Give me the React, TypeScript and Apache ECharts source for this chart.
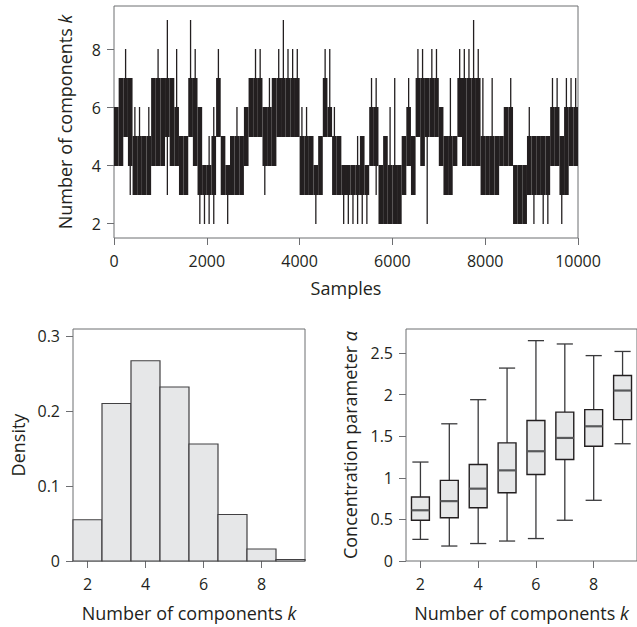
import React, { useEffect, useRef } from "react";
import * as echarts from "echarts";

// ---------- Trace plot (MCMC samples of k), summarised per window of samples ----------
const TRACE_WINDOW = 100; // samples per window
// dense band (lower / upper value visited often) per window
const traceCoreLo = [
  4, 4, 5, 4, 3, 3, 3, 3, 4, 4, 4, 5, 4, 4, 3, 3, 5, 4, 3, 3,
  3, 3, 5, 3, 3, 3, 3, 3, 4, 5, 5, 5, 4, 4, 4, 5, 5, 5, 5, 5,
  3, 3, 3, 3, 3, 5, 5, 3, 3, 3, 3, 3, 3, 3, 3, 4, 4, 2, 2, 2,
  2, 2, 3, 4, 3, 5, 4, 5, 5, 5, 4, 3, 3, 4, 5, 4, 4, 4, 4, 3,
  3, 3, 3, 4, 4, 4, 2, 2, 2, 3, 3, 3, 3, 3, 4, 4, 3, 3, 4, 4,
];
const traceCoreHi = [
  6, 7, 7, 7, 5, 5, 5, 5, 7, 7, 7, 7, 7, 6, 5, 5, 7, 7, 6, 4,
  4, 5, 7, 5, 4, 5, 5, 5, 6, 7, 7, 7, 6, 6, 7, 7, 7, 7, 7, 7,
  5, 5, 5, 4, 5, 7, 6, 5, 5, 4, 4, 4, 4, 5, 4, 6, 6, 4, 5, 4,
  4, 4, 5, 6, 5, 7, 7, 7, 7, 7, 6, 5, 5, 5, 7, 7, 7, 7, 7, 5,
  5, 5, 5, 5, 6, 6, 4, 4, 4, 5, 5, 5, 5, 5, 6, 6, 5, 6, 6, 6,
];
// extreme values reached within each window (single excursions)
const traceMin = [
  4, 4, 5, 3, 3, 3, 3, 3, 4, 4, 4, 3, 4, 4, 3, 3, 5, 4, 2, 2,
  2, 2, 5, 3, 2, 3, 3, 3, 4, 5, 5, 5, 3, 4, 4, 5, 5, 5, 5, 5,
  3, 3, 3, 2, 3, 5, 5, 3, 3, 2, 2, 2, 2, 2, 2, 4, 3, 2, 2, 2,
  2, 2, 3, 4, 3, 5, 4, 2, 5, 5, 4, 3, 3, 4, 5, 4, 4, 4, 4, 3,
  3, 3, 3, 4, 4, 4, 2, 2, 2, 3, 2, 3, 2, 2, 4, 4, 2, 3, 4, 4,
];
const traceMax = [
  6, 7, 8, 7, 6, 6, 5, 6, 7, 8, 7, 9, 7, 8, 5, 5, 9, 8, 6, 4,
  5, 6, 8, 5, 4, 5, 6, 5, 6, 7, 8, 8, 6, 7, 7, 8, 9, 8, 8, 8,
  6, 6, 5, 4, 5, 8, 8, 6, 5, 4, 4, 4, 5, 5, 4, 7, 7, 4, 5, 6,
  7, 4, 5, 7, 5, 8, 8, 7, 8, 8, 6, 5, 7, 5, 8, 8, 8, 9, 8, 7,
  5, 7, 5, 5, 6, 7, 4, 4, 4, 6, 5, 5, 5, 5, 7, 7, 5, 7, 7, 7,
];
const sampleTicks = [0, 2000, 4000, 6000, 8000, 10000];
const kTicksTop = [2, 4, 6, 8];

// ---------- Histogram of k ----------
const histK = [2, 3, 4, 5, 6, 7, 8, 9];
const histDensity = [0.055, 0.21, 0.267, 0.232, 0.156, 0.062, 0.016, 0.002];
const densityTicks = [0, 0.1, 0.2, 0.3];
const kTicks = [2, 4, 6, 8];

// ---------- Boxplots of alpha by k ----------
const boxK = [2, 3, 4, 5, 6, 7, 8, 9];
const boxLow = [0.26, 0.18, 0.21, 0.24, 0.27, 0.49, 0.73, 1.41];
const boxQ1 = [0.49, 0.52, 0.64, 0.82, 1.04, 1.22, 1.38, 1.7];
const boxMedian = [0.61, 0.72, 0.87, 1.09, 1.32, 1.48, 1.62, 2.05];
const boxQ3 = [0.77, 0.97, 1.16, 1.42, 1.69, 1.79, 1.82, 2.23];
const boxHigh = [1.19, 1.65, 1.94, 2.32, 2.65, 2.61, 2.47, 2.52];
const alphaTicks = [0, 0.5, 1, 1.5, 2, 2.5];

const FONT = "'Open Sans', 'Noto Sans', sans-serif";
const TEXT = "#231f20";
const FRAME = "#6d6e71";
const FILL = "#e6e7e8";

export default function App() {
  const ref = useRef<HTMLDivElement>(null);

  useEffect(() => {
    if (!ref.current) return;
    const chart = echarts.init(ref.current, undefined, { renderer: "svg" });

    const traceData = traceCoreLo.map((lo, i) => [
      i * TRACE_WINDOW,
      (i + 1) * TRACE_WINDOW,
      lo,
      traceCoreHi[i],
      traceMin[i],
      traceMax[i],
    ]);
    const histData = histK.map((k, i) => [k, histDensity[i]]);
    const boxData = boxK.map((k, i) => [k, boxLow[i], boxQ1[i], boxMedian[i], boxQ3[i], boxHigh[i]]);

    const tickLabel = (extra: any = {}) => ({
      color: TEXT,
      fontFamily: FONT,
      fontSize: 16,
      formatter: (v: number) => String(v),
      ...extra,
    });
    const nameStyle = {
      color: TEXT,
      fontFamily: FONT,
      fontSize: 18,
      rich: {
        i: { fontStyle: "italic", fontFamily: FONT, fontSize: 18, color: TEXT },
      },
    };
    const tick = (values: number[]) => ({
      show: true,
      length: 7,
      customValues: values,
      lineStyle: { color: FRAME, width: 1 },
    });
    const gridBase = { show: true, borderColor: FRAME, borderWidth: 1, backgroundColor: "transparent" };

    const option: any = {
      animation: false,
      grid: [
        { ...gridBase, left: 114, top: 6, width: 464, height: 232 },
        { ...gridBase, left: 73, top: 329, width: 232, height: 232 },
        { ...gridBase, left: 406, top: 329, width: 232, height: 232 },
      ],
      xAxis: [
        {
          gridIndex: 0,
          type: "value",
          min: 0,
          max: 10000,
          axisLine: { show: false },
          splitLine: { show: false },
          axisTick: tick(sampleTicks),
          axisLabel: tickLabel({ margin: 15, customValues: sampleTicks }),
          name: "Samples",
          nameLocation: "middle",
          nameGap: 41,
          nameTextStyle: nameStyle,
        },
        {
          gridIndex: 1,
          type: "value",
          min: 1.5,
          max: 9.5,
          axisLine: { show: false },
          splitLine: { show: false },
          axisTick: tick(kTicks),
          axisLabel: tickLabel({ margin: 15, customValues: kTicks }),
          name: "Number of components {i|k}",
          nameLocation: "middle",
          nameGap: 43,
          nameTextStyle: nameStyle,
        },
        {
          gridIndex: 2,
          type: "value",
          min: 1.5,
          max: 9.5,
          axisLine: { show: false },
          splitLine: { show: false },
          axisTick: tick(kTicks),
          axisLabel: tickLabel({ margin: 15, customValues: kTicks }),
          name: "Number of components {i|k}",
          nameLocation: "middle",
          nameGap: 43,
          nameTextStyle: nameStyle,
        },
      ],
      yAxis: [
        {
          gridIndex: 0,
          type: "value",
          min: 1.5,
          max: 9.5,
          axisLine: { show: false },
          splitLine: { show: false },
          axisTick: tick(kTicksTop),
          axisLabel: tickLabel({ margin: 13, customValues: kTicksTop }),
          name: "Number of components {i|k}",
          nameLocation: "middle",
          nameGap: 40,
          nameTextStyle: nameStyle,
        },
        {
          gridIndex: 1,
          type: "value",
          min: 0,
          max: 0.3093,
          axisLine: { show: false },
          splitLine: { show: false },
          axisTick: tick(densityTicks),
          axisLabel: tickLabel({ margin: 13, customValues: densityTicks }),
          name: "Density",
          nameLocation: "middle",
          nameGap: 46,
          nameTextStyle: nameStyle,
        },
        {
          gridIndex: 2,
          type: "value",
          min: 0,
          max: 2.79,
          axisLine: { show: false },
          splitLine: { show: false },
          axisTick: tick(alphaTicks),
          axisLabel: tickLabel({ margin: 13, customValues: alphaTicks }),
          name: "Concentration parameter {i|α}",
          nameLocation: "middle",
          nameGap: 47,
          nameTextStyle: nameStyle,
        },
      ],
      series: [
        {
          type: "custom",
          xAxisIndex: 0,
          yAxisIndex: 0,
          data: traceData,
          clip: true,
          renderItem: (_p: any, api: any) => {
            const s = api.value(0);
            const e = api.value(1);
            const lo = api.value(2);
            const hi = api.value(3);
            const mn = api.value(4);
            const mx = api.value(5);
            const a = api.coord([s, hi]);
            const b = api.coord([e, lo]);
            const c = api.coord([(s + e) / 2, mx]);
            const d = api.coord([(s + e) / 2, mn]);
            return {
              type: "group",
              children: [
                {
                  type: "rect",
                  shape: { x: a[0], y: a[1] - 0.5, width: b[0] - a[0], height: b[1] - a[1] + 1 },
                  style: { fill: TEXT },
                },
                {
                  type: "line",
                  shape: { x1: c[0], y1: c[1] - 0.5, x2: d[0], y2: d[1] + 0.5 },
                  style: { stroke: TEXT, lineWidth: 1.3 },
                },
              ],
            };
          },
        },
        {
          type: "custom",
          xAxisIndex: 1,
          yAxisIndex: 1,
          data: histData,
          renderItem: (_p: any, api: any) => {
            const k = api.value(0);
            const v = api.value(1);
            const a = api.coord([k - 0.5, v]);
            const b = api.coord([k + 0.5, 0]);
            return {
              type: "rect",
              shape: { x: a[0], y: a[1], width: b[0] - a[0], height: b[1] - a[1] },
              style: { fill: FILL, stroke: "#414042", lineWidth: 1.2 },
            };
          },
        },
        {
          type: "custom",
          xAxisIndex: 2,
          yAxisIndex: 2,
          data: boxData,
          renderItem: (_p: any, api: any) => {
            const k = api.value(0);
            const lowV = api.value(1);
            const q1 = api.value(2);
            const med = api.value(3);
            const q3 = api.value(4);
            const highV = api.value(5);
            const hw = 0.31;
            const cw = 0.28;
            const pTL = api.coord([k - hw, q3]);
            const pBR = api.coord([k + hw, q1]);
            const mL = api.coord([k - hw, med]);
            const mR = api.coord([k + hw, med]);
            const cTop = api.coord([k, highV]);
            const cLow = api.coord([k, lowV]);
            const cL = api.coord([k - cw, 0]);
            const cR = api.coord([k + cw, 0]);
            const ws = { stroke: "#3a3a3c", lineWidth: 1.3 };
            return {
              type: "group",
              children: [
                { type: "line", shape: { x1: cTop[0], y1: cTop[1], x2: cTop[0], y2: pTL[1] }, style: ws },
                { type: "line", shape: { x1: cLow[0], y1: cLow[1], x2: cLow[0], y2: pBR[1] }, style: ws },
                { type: "line", shape: { x1: cL[0], y1: cTop[1], x2: cR[0], y2: cTop[1] }, style: ws },
                { type: "line", shape: { x1: cL[0], y1: cLow[1], x2: cR[0], y2: cLow[1] }, style: ws },
                {
                  type: "rect",
                  shape: { x: pTL[0], y: pTL[1], width: pBR[0] - pTL[0], height: pBR[1] - pTL[1] },
                  style: { fill: FILL, stroke: "#231f20", lineWidth: 1.4 },
                },
                { type: "line", shape: { x1: mL[0], y1: mL[1], x2: mR[0], y2: mR[1] }, style: { stroke: "#58595b", lineWidth: 2.2 } },
              ],
            };
          },
        },
      ],
    };

    chart.setOption(option);
    return () => chart.dispose();
  }, []);

  return (
    <div
      ref={ref}
      style={{ position: "absolute", left: 0, top: 0, width: 637, height: 627, background: "#fff" }}
    />
  );
}
